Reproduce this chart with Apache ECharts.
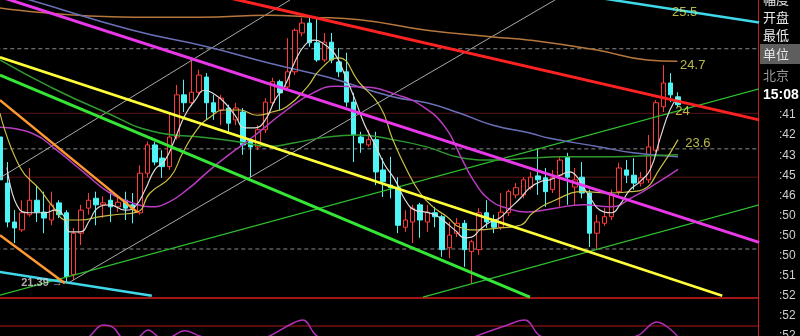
<!DOCTYPE html>
<html><head><meta charset="utf-8">
<script src="https://cdn.jsdelivr.net/npm/echarts@6/dist/echarts.min.js"></script>
<style>html,body{margin:0;padding:0;background:#000;overflow:hidden}#c{width:800px;height:336px}</style>
</head><body><div id="c"></div>
<script>
// OHLC candles: [open, close, low, high]
const candles = [
[23.61,22.96,22.88,23.87],[22.91,22.32,22.24,23.23],[22.32,22.23,22.00,22.50],[22.20,22.46,22.17,22.65],[22.43,22.65,22.40,23.14],
[22.65,22.47,22.32,22.88],[22.47,22.38,22.15,22.78],[22.35,22.58,22.27,22.78],[22.61,22.43,22.38,22.65],[22.46,21.49,21.39,22.50],
[21.52,22.15,21.44,22.23],[22.15,22.50,21.97,22.58],[22.53,22.65,22.43,22.76],[22.68,22.58,22.27,22.78],[22.58,22.61,22.38,22.71],
[22.65,22.55,22.32,22.78],[22.55,22.62,22.47,22.73],[22.65,22.53,22.35,22.78],[22.58,22.53,22.30,22.76],[22.46,23.06,22.43,23.18],
[23.06,23.49,22.99,23.54],[23.49,23.23,23.18,23.54],[23.29,23.16,22.99,23.41],[23.16,23.61,23.11,23.97],[23.61,24.25,23.57,24.40],
[24.25,24.13,23.99,24.48],[24.13,24.29,24.08,24.78],[24.29,24.55,24.25,24.63],[24.52,24.13,23.87,24.58],[24.13,23.99,23.87,24.25],
[24.02,24.20,23.79,24.25],[24.05,23.82,23.69,24.10],[23.87,24.05,23.79,24.13],[23.99,23.49,23.34,24.05],[23.54,23.46,23.00,23.57],
[23.46,23.72,23.41,23.79],[23.72,24.14,23.67,24.20],[24.13,24.45,24.08,24.51],[24.45,24.28,24.02,24.48],[24.37,24.60,24.32,25.11],
[24.60,25.23,24.55,25.26],[25.19,25.34,25.14,25.42],[25.34,25.04,24.98,25.42],[25.04,24.78,24.75,25.42],[24.78,25.05,24.75,25.19],
[25.05,24.78,24.73,25.19],[24.75,24.60,24.52,24.96],[24.60,24.14,24.07,24.89],[24.14,23.64,23.23,24.28],[23.61,23.52,23.37,23.69],
[23.49,23.57,23.46,23.72],[23.57,23.08,22.88,23.69],[23.11,22.93,22.70,23.29],[22.88,22.84,22.68,23.31],[22.84,22.27,22.15,23.00],
[22.24,22.35,22.17,22.50],[22.32,22.53,22.00,22.58],[22.58,22.35,22.08,22.61],[22.32,22.47,22.17,22.58],[22.46,22.40,22.24,22.55],
[22.40,21.90,21.79,22.43],[21.93,22.12,21.77,22.32],[22.15,22.30,22.09,22.38],[22.30,21.90,21.64,22.35],[21.87,22.02,21.39,22.05],
[21.90,22.46,21.82,22.53],[22.46,22.32,22.23,22.65],[22.35,22.24,22.15,22.43],[22.24,22.47,22.20,22.76],[22.46,22.78,22.41,22.81],
[22.73,22.84,22.68,22.91],[22.73,22.96,22.68,23.00],[22.84,23.00,22.81,23.08],[23.02,22.96,22.73,23.44],[22.99,22.78,22.55,23.14],
[22.81,22.99,22.76,23.11],[23.03,23.26,22.55,23.31],[23.31,23.00,22.58,23.37],[22.85,22.96,22.58,23.14],[23.00,22.76,22.68,23.23],
[22.76,22.15,21.94,22.81],[22.15,22.32,21.90,22.43],[22.30,22.40,22.26,22.53],[22.40,22.73,22.35,22.81],[22.78,23.14,22.73,23.22],
[23.11,23.03,22.91,23.26],[23.03,22.91,22.81,23.29],[22.91,22.99,22.86,23.08],[22.96,23.46,22.91,23.64],[23.41,24.13,23.38,24.17],
[24.07,24.43,23.99,24.70],[24.43,24.25,24.14,24.58],[24.22,24.10,24.07,24.29]
];

// moving averages: [barIndex, price]
const ma5 = [[0.95,23.15],[2.71,22.50],[4.07,22.46],[6.1,22.46],[7.46,22.50],[8.55,22.43],[9.5,22.17],[10.85,22.17],[12.2,22.35],[13.2,22.53],[14.9,22.58],[17.0,22.50],[18.3,22.55],[19.7,22.81],[21.0,23.11],[22.4,23.26],[23.7,23.57],[25.1,23.94],[26.5,24.17],[27.8,24.32],[29.2,24.25],[30.5,24.13],[31.9,23.94],[33.2,23.75],[34.6,23.75],[36.0,23.87],[37.3,24.17],[38.7,24.40],[40.0,24.75],[41.4,25.01],[42.7,25.08],[44.1,25.01],[45.5,24.86],[46.8,24.55],[48.2,24.17],[49.5,23.79],[50.9,23.49],[52.2,23.19],[53.6,22.96],[55.0,22.65],[56.3,22.50],[57.7,22.47],[59.0,22.43],[60.4,22.32],[61.7,22.20],[63.1,22.08],[64.0,22.09],[65.1,22.20],[66.5,22.32],[67.8,22.38],[69.2,22.53],[70.6,22.68],[71.9,22.84],[73.3,22.93],[74.6,22.96],[76.0,23.03],[77.3,23.08],[78.4,22.99],[79.4,22.81],[80.3,22.65],[81.4,22.50],[83.0,22.46],[84.1,22.58],[85.5,22.81],[86.8,22.93],[88.2,23.11],[89.6,23.60],[90.9,24.02],[92.0,24.22]];
const ma10 = [[0,23.97],[2.71,23.15],[5.43,22.81],[7.2,22.55],[9.1,22.35],[10.85,22.35],[13.6,22.40],[15.6,22.43],[18.6,22.47],[20.35,22.76],[23.1,23.00],[24.8,23.37],[26.7,23.72],[28.5,23.91],[30.5,24.02],[32.6,24.02],[34.9,23.94],[36.9,23.99],[38.9,24.07],[41.7,24.37],[43.4,24.63],[45.9,24.81],[48.8,24.43],[51.6,24.07],[53.3,23.57],[55.2,23.11],[57.0,22.76],[58.75,22.55],[60.65,22.40],[62.4,22.24],[64.7,22.20],[67.8,22.23],[70.6,22.27],[72.3,22.46],[75.3,22.65],[79.1,22.78],[82.8,22.76],[85.5,22.78],[87.2,22.81],[89.6,23.14],[92.0,23.57]];
const ma20 = [[0,23.76],[4.5,23.66],[7.7,23.41],[11.3,23.08],[14.9,22.76],[18.0,22.61],[20.35,22.55],[22.7,22.61],[25.4,22.81],[28.9,23.15],[31.9,23.41],[34.3,23.61],[38.9,24.02],[42.5,24.28],[45.5,24.38],[49.3,24.37],[53.9,24.25],[57.4,24.07],[60.4,23.76],[62.4,23.34],[64.2,22.96],[66.5,22.65],[68.8,22.53],[71.5,22.47],[75.3,22.53],[79.1,22.58],[82.8,22.55],[85.9,22.70],[89.1,22.91],[92.0,23.12]];
const ma30 = [[0,24.78],[6.8,24.37],[13.6,24.02],[21.7,23.67],[27.1,23.61],[31.6,23.55],[36.6,23.47],[39.8,23.52],[44.4,23.61],[48.4,23.64],[53.3,23.57],[57.9,23.46],[62.4,23.30],[66.9,23.26],[71.9,23.29],[76.0,23.31],[81.4,23.31],[86.8,23.32],[92.0,23.34]];
const ma60 = [[0,25.81],[4.07,25.69],[18.0,25.23],[28.1,24.98],[36.6,24.73],[44.4,24.52],[53.3,24.22],[57.9,24.13],[62.4,23.97],[66.9,23.79],[71.9,23.67],[74.6,23.59],[81.4,23.46],[85.9,23.37],[92.0,23.31]];
const ma120 = [[0,25.57],[18.0,25.43],[27.1,25.43],[36.6,25.46],[42.1,25.43],[48.8,25.39],[57.9,25.23],[66.9,25.13],[71.9,25.08],[81.0,24.93],[87.8,24.78],[91.9,24.76]];

// drawn trend lines: [barIndex, price] end points
const redLine = [[30,25.75],[103,23.87]];
const cyanTop = [[82,25.71],[103,25.35]];
const cyanBottom = [[-1,21.58],[20.6,21.20]];
const magentaLine = [[0,25.74],[103,22.01]];
const yellowLine = [[0,24.82],[98,21.20]];
const limeLine = [[0,24.55],[71.9,21.18]];
const orangeUpper = [[0,24.17],[18.6,22.47]];
const orangeLower = [[0,22.12],[8.8,21.39]];
const greenThinA = [[0,21.21],[103,24.34]];
const greenThinB = [[57.4,21.18],[103,22.58]];
const grayA = [[0,22.99],[39.35,25.69]];
const grayB = [[9.2,21.39],[75.3,25.69]];
const dashLevels = [24.95, 23.43, 21.91];
const dimLevels = [23.97, 23.00];

// annotations
const annoText = ['25.5','24.7','24','23.6'];
const annoPos = [[92.9,25.5],[94.0,24.7],[92.6,24.0],[94.7,23.52]];
const lowLabel = '21.39 →';
const lowPoint = [9, 21.39];

// lower indicator pane
const osc = [[10.85,-24],[12.2,0],[14.0,30],[15.3,24],[16.3,0],[17.6,-24],[19.0,0],[20.1,16],[21.3,0],[22.4,-16],[23.5,0],[25.1,14],[27.1,0],[32.6,-38],[36.6,0],[39.8,35],[41.1,43],[43.0,0],[47.5,-38],[54.3,-65],[61.1,-38],[64.7,0],[68.5,27],[71.2,43],[73.3,0],[78.7,-38],[86.4,0],[89.1,38],[91.9,0]];
const oscLevel = 27;

// right info panel
const panelHead = ['幅度','开盘','最低','单位','北京'];
const panelTime = '15:08';
const panelTicks = [':41',':42',':43',':45',':46',':50',':50',':50',':51',':52',':52',':52'];

const X_MIN = -0.5, X_MAX = 102.85;
const chart = echarts.init(document.getElementById('c'), null, {renderer:'canvas'});

function seg(data, color, width, extra) {
  return Object.assign({type:'line', xAxisIndex:0, yAxisIndex:0, data:data, showSymbol:false, symbol:'none',
    silent:true, z:3, lineStyle:{color:color, width:width}}, extra || {});
}
function level(v, color, type) {
  return {type:'line', xAxisIndex:0, yAxisIndex:0, data:[[X_MIN,v],[X_MAX,v]], symbol:'none', silent:true, z:2,
    lineStyle:{color:color, width:1, type:type}};
}

const series = [];
dashLevels.forEach(v => series.push(level(v, '#8a8a8a', [4,3])));
dimLevels.forEach(v => series.push(level(v, '#5a1414', 'solid')));
series.push({type:'candlestick', xAxisIndex:0, yAxisIndex:0, z:2, barWidth:5,
  data: candles.map((c,i)=>[i, c[0], c[1], c[2], c[3]]),
  itemStyle:{color:'#000', color0:'#4ff4f4', borderColor:'#ff3a3a', borderColor0:'#4ff4f4', borderWidth:1}});
series.push(seg(grayA, '#a8a8a8', 1));
series.push(seg(grayB, '#a8a8a8', 1));
series.push(seg(greenThinA, '#2fbf2f', 1.2));
series.push(seg(greenThinB, '#2fbf2f', 1.2));
series.push(seg(ma120, '#b5773c', 1.5, {smooth:true}));
series.push(seg(ma60, '#6b6fb8', 1.5, {smooth:true}));
series.push(seg(ma30, '#2e9a2e', 1.5, {smooth:true}));
series.push(seg(ma20, '#b83cc0', 1.5, {smooth:true}));
series.push(seg(ma10, '#c9bf45', 1.2, {smooth:true}));
series.push(seg(ma5, '#dcdcdc', 1.2, {smooth:true}));
series.push(seg(redLine, '#ff2222', 3));
series.push(seg(cyanTop, '#3fd8ea', 2.5));
series.push(seg(cyanBottom, '#3fd8ea', 2.5));
series.push(seg(magentaLine, '#e838e8', 3));
series.push(seg(yellowLine, '#ffff3a', 2.5));
series.push(seg(limeLine, '#36e636', 3));
series.push(seg(orangeUpper, '#ff9a33', 2.5));
series.push(seg(orangeLower, '#ff9a33', 2.5));
series.push({type:'scatter', xAxisIndex:0, yAxisIndex:0, z:5, symbolSize:1, silent:true,
  itemStyle:{color:'rgba(0,0,0,0)'},
  data: annoPos.map((p,k)=>({value:p, label:{formatter:annoText[k]}})),
  label:{show:true, position:'inside', color:'#e4e45a', fontSize:13, fontFamily:'Liberation Sans, Arial, sans-serif'}});
series.push({type:'scatter', xAxisIndex:0, yAxisIndex:0, z:5, symbolSize:1, silent:true,
  itemStyle:{color:'rgba(0,0,0,0)'},
  data:[{value:lowPoint, label:{formatter:lowLabel}}],
  label:{show:true, position:'left', distance:3, color:'#d4d4d4', fontSize:11, fontWeight:'bold', fontFamily:'Liberation Sans, Arial, sans-serif'}});
series.push({type:'line', xAxisIndex:1, yAxisIndex:1, data:[[X_MIN,oscLevel],[X_MAX,oscLevel]], symbol:'none', silent:true,
  lineStyle:{color:'#b01818', width:1}});
series.push({type:'line', xAxisIndex:1, yAxisIndex:1, data:osc, symbol:'none', smooth:0.4, silent:true,
  lineStyle:{color:'#b030b8', width:1.5}});

const graphic = [
  {type:'rect', shape:{x:760, y:44, width:40, height:20}, style:{fill:'#5e5e5e'}, z:10}
];
const headY = [-1, 17, 35, 54, 75];
panelHead.forEach((t,k)=>{
  graphic.push({type:'text', x:763, y:headY[k], z:11, style:{text:t, fill: k===4 ? '#9a9a9a' : '#e8e8e8',
    font:'13px "Noto Sans CJK SC", sans-serif', textVerticalAlign:'middle', verticalAlign:'middle'}});
});
graphic.push({type:'text', x:763, y:95, z:11, style:{text:panelTime, fill:'#ffffff',
  font:'bold 14px "Liberation Sans", Arial, sans-serif', verticalAlign:'middle'}});
panelTicks.forEach((t,k)=>{
  graphic.push({type:'text', x:779, y:115 + k*20.1, z:11, style:{text:t, fill:'#cfcfcf',
    font:'12px "Liberation Sans", Arial, sans-serif', verticalAlign:'middle'}});
});

chart.setOption({
  backgroundColor:'#000',
  animation:false,
  grid:[
    {left:-3.7, top:0, width:761.7, height:298, containLabel:false, outerBoundsMode:'none'},
    {left:-3.7, top:299, width:761.7, height:37, containLabel:false, outerBoundsMode:'none'}
  ],
  xAxis:[
    {type:'value', gridIndex:0, min:X_MIN, max:X_MAX, show:true, axisLine:{show:true, onZero:false, lineStyle:{color:'#d42020', width:1.5}},
      axisTick:{show:false}, axisLabel:{show:false}, splitLine:{show:false}},
    {type:'value', gridIndex:1, min:X_MIN, max:X_MAX, position:'bottom', show:false, splitLine:{show:false}}
  ],
  yAxis:[
    {type:'value', gridIndex:0, min:21.166, max:25.69, position:'right', scale:true,
      axisLine:{show:true, onZero:false, lineStyle:{color:'#c81e1e', width:1}}, axisTick:{show:false}, axisLabel:{show:false}, splitLine:{show:false}},
    {type:'value', gridIndex:1, min:0, max:100, position:'right',
      axisLine:{show:true, onZero:false, lineStyle:{color:'#c81e1e', width:1}}, axisTick:{show:false}, axisLabel:{show:false}, splitLine:{show:false}}
  ],
  series: series,
  graphic: graphic
});
</script></body></html>
